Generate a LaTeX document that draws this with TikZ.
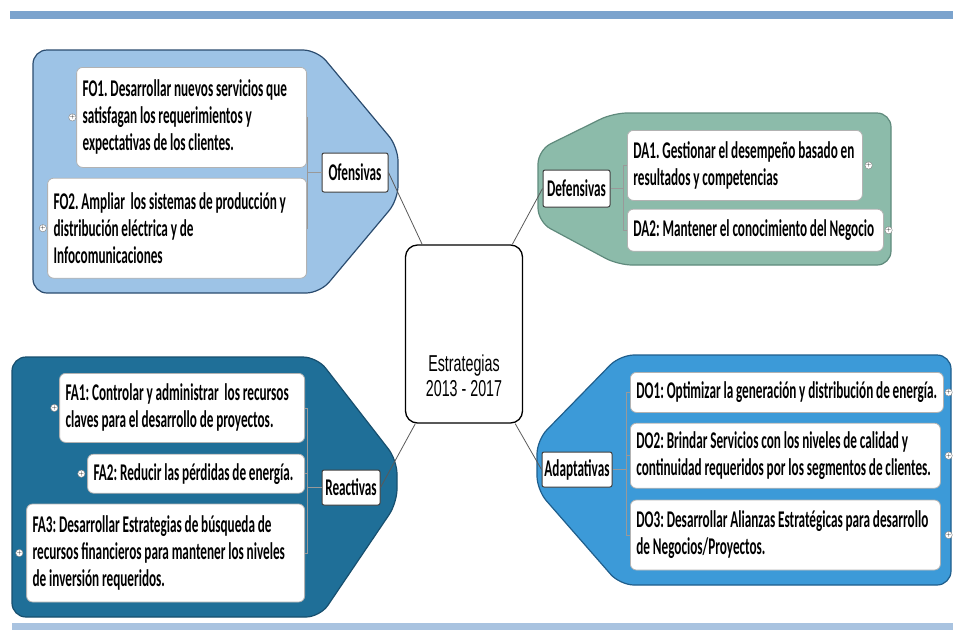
\documentclass[tikz,border=0pt]{standalone}
\usepackage{fontspec}
\usepackage{tikz}
\usetikzlibrary{positioning}
\newfontfamily\itemfont[FakeStretch=0.55]{Carlito}
\newfontfamily\hubfont[FakeStretch=0.62]{Liberation Sans}
\newcommand\itemsize{\fontsize{24}{27}\selectfont}
\newcommand\hubsize{\fontsize{23}{25}\selectfont}
% narrower word spaces for the stretched font
\newcommand\tightspaces{\spaceskip=2.8pt\relax\xspaceskip=2.8pt\relax}
\definecolor{bandtop}{HTML}{7BA3CD}
\definecolor{bandbot}{HTML}{A9C3E0}
\definecolor{ofecol}{HTML}{9DC3E6}
\definecolor{ofeline}{HTML}{2B4C6F}
\definecolor{defcol}{HTML}{8CBBAA}
\definecolor{defline}{HTML}{5F8A7C}
\definecolor{reacol}{HTML}{1F6F98}
\definecolor{realine}{HTML}{174F6E}
\definecolor{adacol}{HTML}{3C9AD8}
\definecolor{adaline}{HTML}{1F5E8C}

\begin{document}
\begin{tikzpicture}[
    x=1pt, y=-1pt,
    item/.style={rectangle, rounded corners=6pt, draw=gray!60, line width=0.8pt, fill=white, align=left, inner xsep=6pt, inner ysep=2pt, font=\itemfont\bfseries\itemsize, execute at begin node=\tightspaces},
    kind/.style={rectangle, rounded corners=2pt, draw=black!75, line width=1pt, fill=white, inner sep=0pt, font=\itemfont\bfseries\itemsize},
    hub/.style={rectangle, rounded corners=12pt, draw=black, line width=1.3pt, fill=white},
    hubtext/.style={align=center, yshift=-42pt, font=\hubfont\hubsize},
    plus/.style={circle, draw=gray, fill=white, inner sep=0pt, minimum size=7pt, font=\fontsize{6}{6}\selectfont},
    tag/.style={rounded corners=14pt, line width=1.2pt},
    branch/.style={draw=gray!80, line width=0.8pt},
    link/.style={draw=gray!70!black, line width=0.8pt},
    ]
    \useasboundingbox (0,0) rectangle (953,630);
    % Bands
    \fill[bandtop] (10,11) rectangle (953,19);
    \fill[bandbot] (12,623) rectangle (953,630);
    % Group shapes
    \draw[tag, fill=ofecol, draw=ofeline] (33,50) -- (317,50) -- (398,147) -- (398,200) -- (320,293) -- (33,293) -- cycle;
    \draw[tag, fill=defcol, draw=defline] (891,113) -- (613,113) -- (538,150) -- (538,222) -- (618,265) -- (891,265) -- cycle;
    \draw[tag, fill=reacol, draw=realine] (12,357) -- (317,357) -- (397,460) -- (397,503) -- (320,617) -- (12,617) -- cycle;
    \draw[tag, fill=adacol, draw=adaline] (951,355) -- (620,355) -- (537,440) -- (537,490) -- (620,585) -- (951,585) -- cycle;

    % Center
    \node[hub, minimum width=117pt, minimum height=178pt, label={[hubtext]center:{Estrategias\\2013 - 2017}}] (hub) at (464,334) {};

    % Ofensivas
    \node[kind, minimum width=66pt, minimum height=39pt] (ofensivas) at (355,172.5) {Ofensivas};
    \node[item, anchor=north east, text width=218pt, minimum height=100pt] (FO1) at (307,67) {FO1. Desarrollar nuevos servicios que\\satisfagan los requerimientos y\\expectativas de los clientes.};
    \node[item, below left=10pt and 0pt of FO1.south east, text width=247pt, minimum height=100pt] (FO2) {FO2. Ampliar\ \ los sistemas de producción y\\distribución eléctrica y de\\Infocomunicaciones};
    \node[plus, left=0pt of FO1] (FO1_plus) {+};
    \node[plus, left=0.5pt of FO2] (FO2_plus) {+};

    % Defensivas
    \node[kind, minimum width=67pt, minimum height=37pt] (defensivas) at (576.5,188.5) {Defensivas};
    \node[item, anchor=north west, text width=223pt, minimum height=70pt] (DA1) at (627,130) {DA1. Gestionar el desempeño basado en\\resultados y competencias};
    \node[item, below right=8pt and 0pt of DA1.south west, text width=244pt, minimum height=42pt] (DA2) {DA2: Mantener el conocimiento del Negocio};
    \node[plus, right=2pt of DA1] (DA1_plus) {+};
    \node[plus, right=1pt of DA2] (DA2_plus) {+};

    % Reactivas
    \node[kind, minimum width=58pt, minimum height=35pt] (reactivas) at (351,487.5) {Reactivas};
    \node[item, anchor=north east, text width=233pt, minimum height=69pt] (FA1) at (305,373) {FA1: Controlar y administrar\ \ los recursos\\claves para el desarrollo de proyectos.};
    \node[item, below left=11pt and 0pt of FA1.south east, text width=205pt, minimum height=39pt] (FA2) {FA2: Reducir las pérdidas de energía.};
    \node[item, below left=10pt and 0pt of FA2.south east, text width=266pt, minimum height=98pt] (FA3) {FA3: Desarrollar Estrategias de búsqueda de\\recursos financieros para mantener los niveles\\de inversión requeridos.};
    \node[plus, left=1pt of FA1] (FA1_plus) {+};
    \node[plus, left=2pt of FA2] (FA2_plus) {+};
    \node[plus, left=3pt of FA3] (FA3_plus) {+};

    % Adaptativas
    \node[kind, minimum width=70pt, minimum height=35pt] (adaptativas) at (577,469.5) {Adaptativas};
    \node[item, anchor=north west, text width=301pt, minimum height=40pt] (DO1) at (630,372) {DO1: Optimizar la generación y distribución de energía.};
    \node[item, below right=10pt and 0pt of DO1.south west, text width=298pt, minimum height=65pt] (DO2) {DO2: Brindar Servicios con los niveles de calidad y\\continuidad requeridos por los segmentos de clientes.};
    \node[item, below right=11pt and 0pt of DO2.south west, text width=298pt, minimum height=70pt] (DO3) {DO3: Desarrollar Alianzas Estratégicas para desarrollo\\de Negocios/Proyectos.};
    \node[plus, right=1pt of DO1] (DO1_plus) {+};
    \node[plus, right=4pt of DO2] (DO2_plus) {+};
    \node[plus, right=4pt of DO3] (DO3_plus) {+};

    % Brackets
    \coordinate[left=14pt of ofensivas.west] (ofensivas_j);
    \draw[branch] (ofensivas.west) -- (ofensivas_j) |- (FO1.east);
    \draw[branch] (ofensivas_j) |- (FO2.east);
    \coordinate[right=13pt of defensivas.east] (defensivas_j);
    \draw[branch] (defensivas.east) -- (defensivas_j) |- (DA1.west);
    \draw[branch] (defensivas_j) |- (DA2.west);
    \coordinate[left=14pt of reactivas.west] (reactivas_j);
    \draw[branch] (reactivas.west) -- (reactivas_j) |- (FA1.east);
    \draw[branch] (reactivas_j) |- (FA2.east);
    \draw[branch] (reactivas_j) |- (FA3.east);
    \coordinate[right=14pt of adaptativas.east] (adaptativas_j);
    \draw[branch] (adaptativas.east) -- (adaptativas_j) |- (DO1.west);
    \draw[branch] (adaptativas_j) |- (DO2.west);
    \draw[branch] (adaptativas_j) |- (DO3.west);

    % Links to center
    \draw[link] (ofensivas.east) -- (hub);
    \draw[link] (defensivas.west) -- (hub);
    \draw[link] (reactivas.east) -- (hub);
    \draw[link] (adaptativas.west) -- (hub);
\end{tikzpicture}
\end{document}
